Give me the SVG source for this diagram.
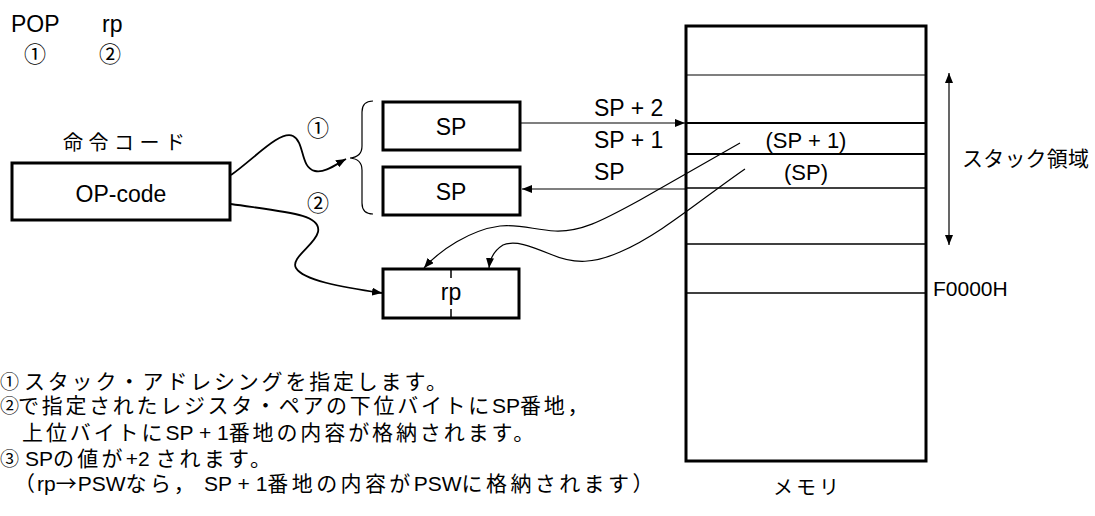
<svg xmlns="http://www.w3.org/2000/svg" width="1095" height="516" viewBox="0 0 1095 516">
<style>
.t{font-family:"Liberation Sans","Noto Sans CJK JP",sans-serif;fill:#000}
.j{font-family:"Noto Sans CJK JP",sans-serif}
.l{font-size:23px}
.c{font-size:21px}
.n{font-size:19px}
.m{text-anchor:middle}
.box{fill:#fff;stroke:#000;stroke-width:3}
.thin{fill:none;stroke:#000;stroke-width:1.2}
.bold{fill:none;stroke:#000;stroke-width:1.8}
</style>
<defs>
<marker id="ah" viewBox="0 0 10 8" refX="10" refY="4" markerWidth="10" markerHeight="8" markerUnits="userSpaceOnUse" orient="auto-start-reverse">
<path d="M0,0 L10,4 L0,8 z" fill="#000"/>
</marker>
</defs>
<rect width="1095" height="516" fill="#fff"/>

<g id="instr">
<text class="t l" x="11" y="32">POP</text>
<text class="t l" x="102" y="32">rp</text>
<text class="t m" style="font-size:22px" x="35" y="62">①</text>
<text class="t m" style="font-size:22px" x="110" y="62">②</text>
</g>

<g id="opcode">
<text class="t" style="font-size:20px" x="63" y="150" textLength="122" lengthAdjust="spacing">命令コード</text>
<rect class="box" x="12" y="163" width="218" height="57"/>
<text class="t l m" x="121" y="202">OP-code</text>
</g>

<g id="brace">
<path class="thin" d="M373 101 Q362 101 362 112 L362 146 Q362 157 350 158 Q362 159 362 170 L362 203 Q362 214 373 214"/>
<text class="t m" style="font-size:22px" x="318" y="136">①</text>
<text class="t m" style="font-size:22px" x="318" y="211">②</text>
</g>

<g id="sp1">
<rect class="box" x="383" y="102" width="137" height="48"/>
<text class="t l m" x="451" y="135">SP</text>
</g>
<g id="sp2">
<rect class="box" x="383" y="167" width="137" height="48"/>
<text class="t l m" x="451" y="200">SP</text>
</g>

<g id="rp">
<rect class="box" x="383" y="269" width="136" height="49"/>
<line x1="451" y1="269" x2="451" y2="278" stroke="#000" stroke-width="1.5"/>
<line x1="451" y1="309" x2="451" y2="318" stroke="#000" stroke-width="1.5"/>
<text class="t l m" x="451" y="300">rp</text>
</g>

<g id="memory">
<rect class="box" x="686" y="26" width="240" height="435"/>
<line x1="686" y1="75" x2="926" y2="75" stroke="#000" stroke-width="1.2"/>
<line x1="686" y1="123" x2="926" y2="123" stroke="#000" stroke-width="2"/>
<line x1="686" y1="154" x2="926" y2="154" stroke="#000" stroke-width="2"/>
<line x1="686" y1="188" x2="926" y2="188" stroke="#000" stroke-width="1.5"/>
<line x1="686" y1="244" x2="926" y2="244" stroke="#000" stroke-width="1.5"/>
<line x1="686" y1="293" x2="926" y2="293" stroke="#000" stroke-width="1.5"/>
<text class="t m" style="font-size:22px" x="806" y="148">(SP + 1)</text>
<text class="t m" style="font-size:22px" x="806" y="180">(SP)</text>
<text class="t c" x="933" y="296">F0000H</text>
<text class="t" style="font-size:20px" x="773" y="495" textLength="66" lengthAdjust="spacing">メモリ</text>
</g>

<g id="stack">
<line class="thin" x1="949" y1="73" x2="949" y2="245" marker-start="url(#ah)" marker-end="url(#ah)"/>
<text class="t c" x="962" y="166" textLength="127" lengthAdjust="spacing">スタック領域</text>
</g>

<g id="connectors">
<path class="bold" d="M231 175 C255 158 280 130 293 136 C305 142 300 168 315 171 C325 173 335 165 346 159" marker-end="url(#ah)"/>
<path class="bold" d="M231 204 C285 212 322 214 318 232 C315 245 290 258 296 268 C303 280 340 287 382 293" marker-end="url(#ah)"/>
<line class="thin" x1="521" y1="123" x2="685" y2="123" marker-end="url(#ah)"/>
<line class="thin" x1="686" y1="189" x2="522" y2="189" marker-end="url(#ah)"/>
<path class="thin" d="M740 143 L640 200 C600 222 580 232 555 231 C535 230 520 224 500 226 C470 230 440 250 424 268" marker-end="url(#ah)"/>
<path class="thin" d="M745 169 C700 200 660 235 620 252 C595 263 575 265 550 254 C530 246 515 240 503 245 C495 250 490 258 489 268" marker-end="url(#ah)"/>
<text class="t l" x="594" y="116">SP + 2</text>
<text class="t l" x="594" y="148">SP + 1</text>
<text class="t l" x="594" y="180">SP</text>
</g>

<g id="notes">
<text class="t n" x="0" y="389">①</text>
<text class="t c" x="24" y="389" letter-spacing="2.8">スタック・アドレシングを指定します。</text>
<text class="t n" x="0" y="413">②</text>
<text class="t c" y="413"><tspan x="18" letter-spacing="2.7">で指定されたレジスタ・ペアの下位バイトに</tspan><tspan>SP</tspan><tspan letter-spacing="2.8">番地，</tspan></text>
<text class="t c" y="440"><tspan x="22" letter-spacing="2.9">上位バイトに</tspan><tspan>SP + 1</tspan><tspan letter-spacing="2.9">番地の内容が格納されます。</tspan></text>
<text class="t n" x="0" y="466">③</text>
<text class="t c" y="466"><tspan x="25">SP</tspan><tspan letter-spacing="3.2">の値が</tspan><tspan>+2 </tspan><tspan letter-spacing="3.2">されます。</tspan></text>
<text class="t c" y="491"><tspan x="14" letter-spacing="2">（</tspan><tspan>rp</tspan><tspan class="j" letter-spacing="1">→</tspan><tspan>PSW</tspan><tspan letter-spacing="3.4">なら，</tspan><tspan dx="6">SP + 1</tspan><tspan letter-spacing="3.4">番地の内容が</tspan><tspan>PSW</tspan><tspan letter-spacing="3.4">に格納されます）</tspan></text>
</g>
</svg>
